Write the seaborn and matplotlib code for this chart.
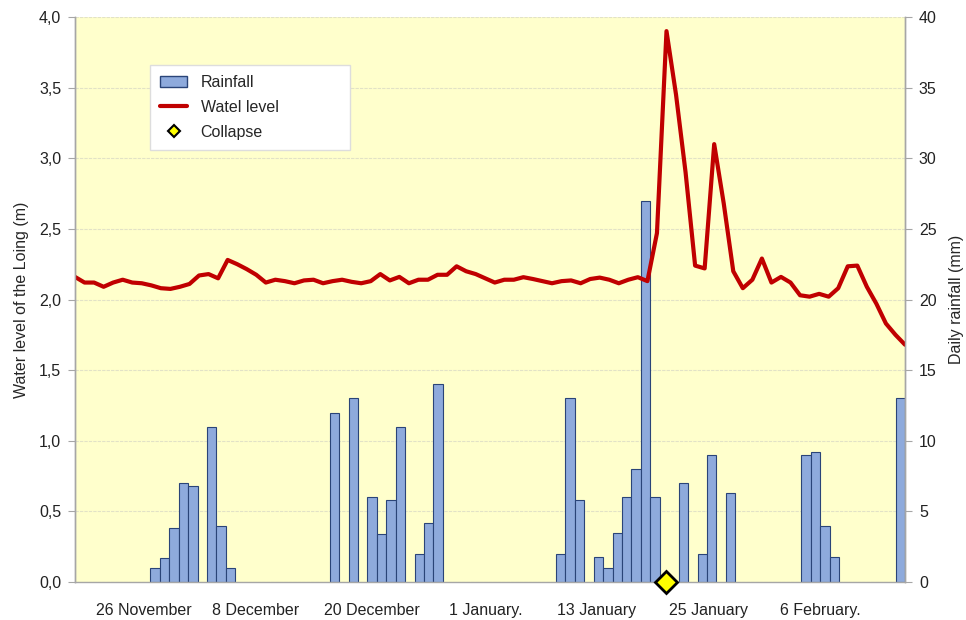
import numpy as np
import pandas as pd
import matplotlib
matplotlib.use("Agg")
from matplotlib import pyplot as plt
from matplotlib.patches import Patch
from matplotlib.lines import Line2D
from matplotlib.ticker import FuncFormatter
import seaborn as sns

sns.set_style("white")
plt.rcParams['font.family'] = ['Liberation Sans', 'DejaVu Sans']
plt.rcParams['font.size'] = 11

# water level of the Loing (m), one value per day
level = [2.16, 2.12, 2.12, 2.09, 2.12, 2.14, 2.12, 2.115, 2.10, 2.08,
         2.075, 2.09, 2.11, 2.17, 2.18, 2.15, 2.28, 2.25, 2.215, 2.175,
         2.12, 2.14, 2.13, 2.115, 2.135, 2.14, 2.115, 2.13, 2.14, 2.125,
         2.115, 2.13, 2.18, 2.135, 2.16, 2.115, 2.14, 2.14, 2.175, 2.175,
         2.235, 2.20, 2.18, 2.15, 2.12, 2.14, 2.14, 2.158, 2.145, 2.13,
         2.115, 2.13, 2.135, 2.115, 2.145, 2.155, 2.14, 2.115, 2.14, 2.158,
         2.13, 2.47, 3.90, 3.45, 2.90, 2.24, 2.22, 3.10, 2.68, 2.20,
         2.08, 2.14, 2.29, 2.12, 2.16, 2.12, 2.03, 2.02, 2.04, 2.02,
         2.08, 2.235, 2.24, 2.09, 1.97, 1.83, 1.75, 1.68]

# daily rainfall (mm), only the days with rain
rain_day = [8, 9, 10, 11, 12, 14, 15, 16, 27, 29, 31, 32, 33, 34, 36, 37, 38,
            51, 52, 53, 55, 56, 57, 58, 59, 60, 61, 64, 66, 67, 69, 77, 78, 79, 80, 87]
rain_mm = [1.0, 1.7, 3.8, 7.0, 6.8, 11.0, 4.0, 1.0, 12.0, 13.0, 6.0, 3.4, 5.8, 11.0, 2.0, 4.2, 14.0,
           2.0, 13.0, 5.8, 1.8, 1.0, 3.5, 6.0, 8.0, 27.0, 6.0, 7.0, 2.0, 9.0, 6.3, 9.0, 9.2, 4.0, 1.8, 13.0]

collapse_day = 62

date_labels = ["26 November", "8 December", "20 December", "1 January.",
               "13 January", "25 January", "6 February."]
label_pos = [7.2, 18.9, 31.1, 43.1, 54.7, 66.4, 78.1]

n_days = len(level)
span = n_days - 1

df_rain = pd.DataFrame({"x": (np.array(rain_day) + 0.5) * span / n_days, "mm": rain_mm})
df_level = pd.DataFrame({"day": np.arange(n_days), "level": level})

bar_col = '#8EAADC'
bar_edge = '#2A4478'
line_col = '#C00000'
axis_col = '#A6A6A6'

fig = plt.figure(figsize=(9.66, 6.2), dpi=100)
ax = fig.add_axes([75 / 966, 1 - 582 / 620, 830 / 966, 565 / 620])
ax.set_facecolor('#FFFFCC')

sns.barplot(data=df_rain, x="x", y="mm", native_scale=True, width=1, orient="x",
            color=bar_col, saturation=1, edgecolor=bar_edge, linewidth=0.8, ax=ax)

ax2 = ax.twinx()
sns.lineplot(data=df_level, x="day", y="level", ax=ax2, color=line_col, linewidth=3)
for ln in ax2.lines:
    ln.set_solid_joinstyle('round')
ax2.plot([collapse_day], [0], marker='D', ms=11, mfc='#FFFF00', mec='black', mew=2,
         linestyle='none', clip_on=False, zorder=10)

ax.set_xlim(0, span)
ax.set_ylim(0, 40)
ax2.set_ylim(0, 4)

# x axis: tick marks every 2 days, date labels between them
ax.set_xticks(np.arange(0, span, 2), minor=True)
ax.set_xticks(label_pos)
ax.set_xticklabels(date_labels)
ax.tick_params(axis='x', which='major', length=0, pad=15, labelsize=11.5, labelcolor='#222222')
ax.tick_params(axis='x', which='minor', length=7, direction='inout', color=axis_col, width=1)
ax.set_xlabel('')

# right axis: rainfall
ax.yaxis.tick_right()
ax.yaxis.set_label_position('right')
ax.set_yticks(range(0, 41, 5))
ax.tick_params(axis='y', length=5, color=axis_col, pad=5, labelsize=11.5, labelcolor='#222222')
ax.set_ylabel('Daily rainfall (mm)', fontsize=11.5, labelpad=9)
ax.yaxis.grid(True, color='#E2E2C6', linewidth=0.8, linestyle=(0, (3, 1)))
ax.set_axisbelow(True)

# left axis: water level
ax2.yaxis.tick_left()
ax2.yaxis.set_label_position('left')
ax2.set_yticks(np.arange(0, 4.01, 0.5))
ax2.yaxis.set_major_formatter(FuncFormatter(lambda v, _: f"{v:.1f}".replace('.', ',')))
ax2.tick_params(axis='y', length=5, color=axis_col, pad=5, labelsize=11.5, labelcolor='#222222')
ax2.set_ylabel('Water level of the Loing (m)', fontsize=11.5, labelpad=7)
ax2.set_xlabel('')

for a in (ax, ax2):
    a.spines['top'].set_visible(False)
    for s in ('left', 'right', 'bottom'):
        a.spines[s].set_color(axis_col)
        a.spines[s].set_linewidth(1)
ax2.spines['bottom'].set_visible(False)

handles = [Patch(facecolor=bar_col, edgecolor=bar_edge, label='Rainfall'),
           Line2D([], [], color=line_col, lw=3, label='Watel level'),
           Line2D([], [], marker='D', ms=6, mfc='#FFFF00', mec='black', mew=1.5,
                  linestyle='none', label='Collapse')]
ax2.legend(handles=handles, loc='upper left', bbox_to_anchor=(0.0904, 0.765, 0.241, 0.15),
           mode='expand', borderaxespad=0, frameon=True, fancybox=False, edgecolor='#DDDDDD',
           framealpha=1, borderpad=0.62, labelspacing=0.62, handlelength=1.7,
           handletextpad=0.85, fontsize=11.5)

fig.savefig('out.png', dpi=100)
